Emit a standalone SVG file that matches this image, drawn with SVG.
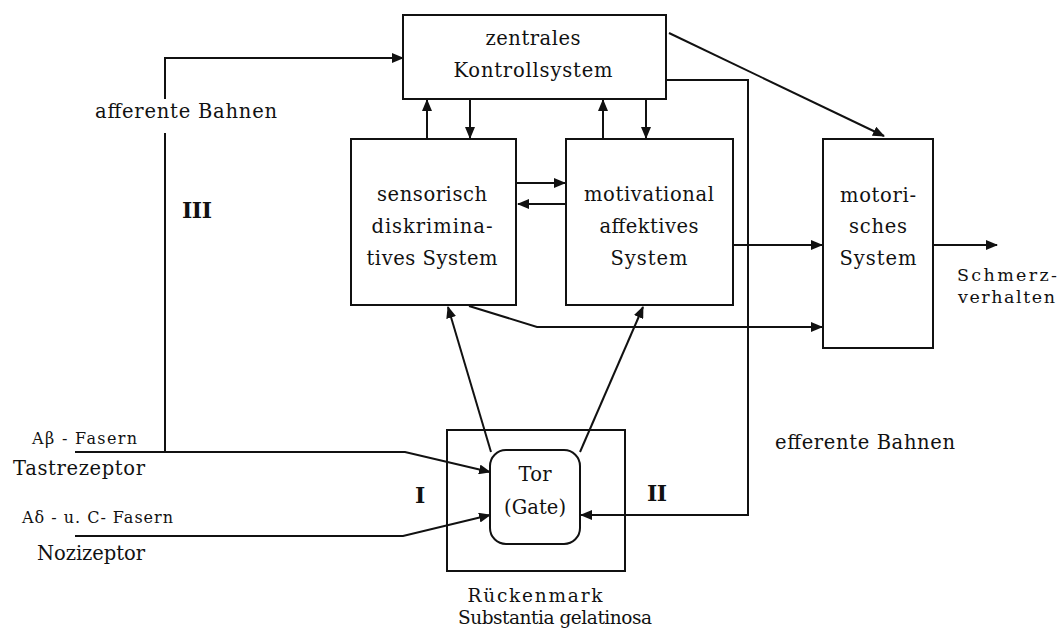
<svg xmlns="http://www.w3.org/2000/svg" width="1062" height="631" viewBox="0 0 1062 631">
<style>
.box{fill:none;stroke:#111;stroke-width:2}
.ln{fill:none;stroke:#111;stroke-width:2}
.t{font-family:"DejaVu Serif","Liberation Serif",serif;font-size:19.5px;fill:#111}
.s{font-size:16px}
.r{font-size:18.5px}
.q{font-size:17.5px}
.b{font-weight:bold;font-size:22px}
.m{text-anchor:middle}
</style>
<defs>
<marker id="ah" markerUnits="userSpaceOnUse" markerWidth="12" markerHeight="10" refX="11" refY="5" orient="auto">
<path d="M0,0 L12,5 L0,10 z" fill="#111"/>
</marker>
</defs>
<rect width="1062" height="631" fill="#fff"/>
<g id="connectors">
<path class="ln" d="M165,452 V133"/>
<path class="ln" d="M165,99 V58 H403" marker-end="url(#ah)"/>
<path class="ln" d="M75,452 H405 L490,472" marker-end="url(#ah)"/>
<path class="ln" d="M75,536 H403 L490,515" marker-end="url(#ah)"/>
<path class="ln" d="M491,452 L448,307" marker-end="url(#ah)"/>
<path class="ln" d="M580,452 L643,307" marker-end="url(#ah)"/>
<path class="ln" d="M667,80 H748 V515 H581" marker-end="url(#ah)"/>
<path class="ln" d="M427,139 V100" marker-end="url(#ah)"/>
<path class="ln" d="M470,100 V138" marker-end="url(#ah)"/>
<path class="ln" d="M603,139 V100" marker-end="url(#ah)"/>
<path class="ln" d="M646,100 V138" marker-end="url(#ah)"/>
<path class="ln" d="M517,183 H565" marker-end="url(#ah)"/>
<path class="ln" d="M566,204 H518" marker-end="url(#ah)"/>
<path class="ln" d="M733,245 H822" marker-end="url(#ah)"/>
<path class="ln" d="M469,306 L537,327 H822" marker-end="url(#ah)"/>
<path class="ln" d="M669,33 L884,136" marker-end="url(#ah)"/>
<path class="ln" d="M933,245 H997" marker-end="url(#ah)"/>
</g>
<g id="zentrales">
<rect class="box" x="403" y="15" width="263" height="84"/>
<text class="t m" x="533" y="45" textLength="95">zentrales</text>
<text class="t m" x="533" y="77" textLength="159">Kontrollsystem</text>
</g>
<g id="sensorisch">
<rect class="box" x="351" y="139" width="165" height="166"/>
<text class="t m" x="432" y="201" textLength="110">sensorisch</text>
<text class="t m" x="432" y="233" textLength="121">diskrimina-</text>
<text class="t m" x="432" y="265" textLength="131">tives System</text>
</g>
<g id="motivational">
<rect class="box" x="566" y="139" width="167" height="166"/>
<text class="t m" x="649" y="201" textLength="130">motivational</text>
<text class="t m" x="649" y="233" textLength="99">affektives</text>
<text class="t m" x="649" y="265" textLength="77">System</text>
</g>
<g id="motorisch">
<rect class="box" x="823" y="139" width="110" height="209"/>
<text class="t m" x="878" y="202" textLength="76">motori-</text>
<text class="t m" x="878" y="233" textLength="58">sches</text>
<text class="t m" x="878" y="265" textLength="77">System</text>
</g>
<g id="schmerz">
<text class="t q" x="957" y="281" textLength="100">Schmerz-</text>
<text class="t q" x="958" y="303" textLength="97">verhalten</text>
</g>
<g id="rueckenmark">
<rect class="box" x="447" y="430" width="178" height="141"/>
<text class="t r m" x="535" y="602" textLength="135">Rückenmark</text>
<text class="t r m" x="555" y="624" textLength="194">Substantia gelatinosa</text>
</g>
<g id="gate">
<rect class="box" x="490" y="450" width="90" height="94" rx="16"/>
<text class="t m" x="535" y="481" textLength="33">Tor</text>
<text class="t m" x="535" y="514" textLength="62">(Gate)</text>
</g>
<g id="labels">
<text class="t" x="95" y="118" textLength="182">afferente Bahnen</text>
<text class="t b" x="182" y="218" textLength="30">III</text>
<text class="t b" x="415" y="503" textLength="12">I</text>
<text class="t b" x="647" y="501" textLength="20">II</text>
<text class="t" x="775" y="449" textLength="180">efferente Bahnen</text>
<text class="t s" x="32" y="444" textLength="105">Aβ - Fasern</text>
<text class="t" x="13" y="475" textLength="132">Tastrezeptor</text>
<text class="t s" x="22" y="523" textLength="151">Aδ - u. C- Fasern</text>
<text class="t" x="37" y="560" textLength="108">Nozizeptor</text>
</g>
</svg>
